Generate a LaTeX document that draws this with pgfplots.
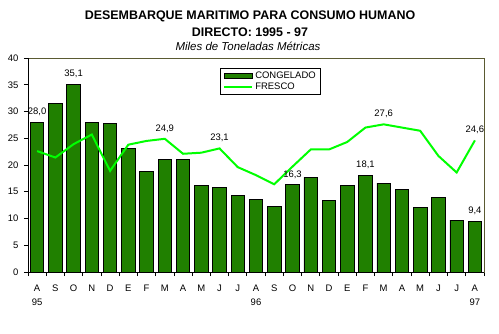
\documentclass[border=0pt]{standalone}
\usepackage{fontspec}
\setmainfont{Liberation Sans}
\usepackage{pgfplots}
\pgfplotsset{compat=1.18}
\definecolor{barg}{RGB}{32,128,0}
\definecolor{lineg}{RGB}{0,255,0}
\definecolor{framec}{RGB}{90,90,50}
\begin{document}
\begin{tikzpicture}[x=1bp,y=1bp]
\path[use as bounding box] (0,0) rectangle (499,333);
\node[font=\bfseries\fontsize{12.5}{14}\selectfont] at (250,317) {DESEMBARQUE MARITIMO PARA CONSUMO HUMANO};
\node[font=\bfseries\fontsize{12.5}{14}\selectfont] at (250,301) {DIRECTO: 1995 - 97};
\node[font=\itshape\fontsize{11.5}{13}\selectfont] at (248,287) {Miles de Toneladas Métricas};
\begin{axis}[
  at={(28bp,61bp)}, anchor=south west,
  scale only axis, width=456bp, height=214bp,
  xmin=-0.5, xmax=24.5, ymin=0, ymax=40,
  ytick={0,5,...,40}, ytick pos=left, xtick pos=bottom,
  tick align=outside, major tick length=4bp,
  tick style={black, line width=0.8bp},
  xtick={-0.5,0.5,...,24.5}, xticklabel=\empty,
  extra x ticks={0,1,...,24},
  extra x tick labels={{A\\95},S,O,N,D,E,F,M,A,M,J,J,{A\\96},S,O,N,D,E,F,M,A,M,J,J,{A\\97}},
  extra x tick style={major tick length=0pt, tick style={draw=none},
    xticklabel style={align=center, yshift=-9bp, font=\fontsize{9.5}{15}\selectfont}},
  yticklabel style={font=\fontsize{9.5}{11}\selectfont, xshift=-2bp},
  /pgf/number format/assume math mode=true,
  axis line style={framec, line width=0.8bp},
  clip=false,
  legend style={at={(0.421,0.953)}, anchor=north west, draw=black, line width=0.6bp,
    font=\fontsize{9.5}{10.5}\selectfont, inner xsep=3bp, inner ysep=1.5bp, row sep=-1bp,
    cells={anchor=west}},
  legend cell align=left,
]
\addplot[ybar, bar width=13.5bp, fill=barg, draw=black, line width=0.8bp,
  legend image code/.code={\fill[barg, draw=black, line width=0.6bp] (0bp,-2.5bp) rectangle (28bp,2.5bp);}]
coordinates {
(0,28.0) (1,31.5) (2,35.1) (3,27.9) (4,27.8) (5,23.1) (6,18.8) (7,21.1) (8,21.1)
(9,16.2) (10,15.8) (11,14.3) (12,13.6) (13,12.3) (14,16.3) (15,17.7) (16,13.4)
(17,16.2) (18,18.1) (19,16.6) (20,15.5) (21,12.1) (22,14.0) (23,9.7) (24,9.4)};
\addlegendentry{CONGELADO}
\addplot[lineg, line width=2bp, mark=none,
  legend image code/.code={\draw[lineg, line width=2bp] (0bp,0bp) -- (28bp,0bp);}]
coordinates {
(0,22.6) (1,21.4) (2,23.9) (3,25.7) (4,18.9) (5,23.8) (6,24.5) (7,24.9) (8,22.1)
(9,22.3) (10,23.1) (11,19.6) (12,18.1) (13,16.4) (14,19.7) (15,22.9) (16,22.9)
(17,24.3) (18,27.0) (19,27.6) (20,27.0) (21,26.4) (22,21.7) (23,18.6) (24,24.6)};
\addlegendentry{FRESCO}
\addplot[forget plot, only marks, mark=none, nodes near coords, point meta=explicit symbolic,
  nodes near coords style={font=\fontsize{9.5}{11}\selectfont, anchor=south, yshift=3bp}]
coordinates {
(0,28.0) [28{,}0] (2,35.1) [35{,}1] (14,16.3) [16{,}3] (18,18.1) [18{,}1] (24,9.4) [9{,}4]
(7,24.9) [24{,}9] (10,23.1) [23{,}1] (19,27.6) [27{,}6] (24,24.6) [24{,}6]};
\draw[black, line width=0.8bp] (rel axis cs:0,1) -- (rel axis cs:0,0) -- (rel axis cs:1,0);
\end{axis}
\end{tikzpicture}
\end{document}
